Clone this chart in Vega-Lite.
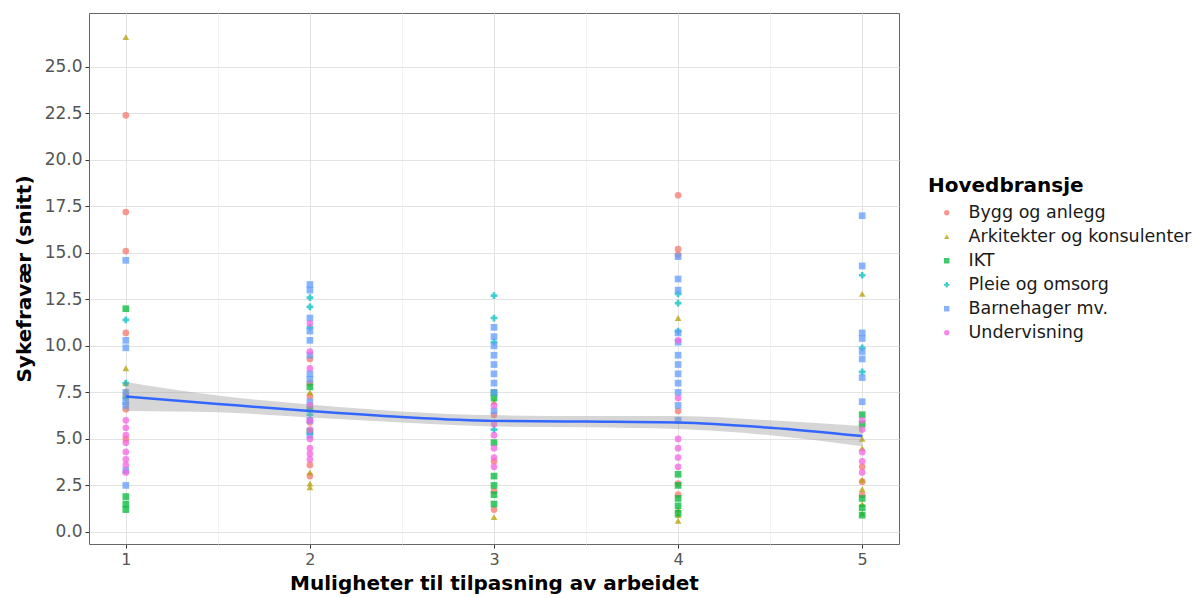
{
  "$schema": "https://vega.github.io/schema/vega-lite/v6.json",
  "width": 810,
  "height": 531,
  "autosize": {"type": "none"},
  "padding": {"left": 89, "top": 13, "right": 304, "bottom": 54},
  "background": "white",
  "config": {
    "font": "DejaVu Sans",
    "view": {"stroke": "#666666", "strokeWidth": 1},
    "axis": {
      "labelFont": "DejaVu Sans",
      "labelFontSize": 16,
      "labelColor": "#555555",
      "tickColor": "#333333",
      "tickSize": 4,
      "domain": false,
      "titleFont": "DejaVu Sans",
      "titleFontSize": 20,
      "titleFontWeight": "bold",
      "titleColor": "#000000"
    },
    "legend": {
      "titleFont": "DejaVu Sans",
      "labelFont": "DejaVu Sans"
    }
  },
  "datasets": {
    "pts": [
      {"x":1,"y":22.4,"b":"Bygg og anlegg"},{"x":1,"y":17.2,"b":"Bygg og anlegg"},{"x":1,"y":15.1,"b":"Bygg og anlegg"},{"x":1,"y":10.7,"b":"Bygg og anlegg"},{"x":1,"y":7.3,"b":"Bygg og anlegg"},{"x":1,"y":6.6,"b":"Bygg og anlegg"},{"x":1,"y":5.0,"b":"Bygg og anlegg"},
      {"x":1,"y":26.6,"b":"Arkitekter og konsulenter"},{"x":1,"y":8.8,"b":"Arkitekter og konsulenter"},{"x":1,"y":8.0,"b":"Arkitekter og konsulenter"},{"x":1,"y":7.6,"b":"Arkitekter og konsulenter"},
      {"x":1,"y":12.0,"b":"IKT"},{"x":1,"y":1.9,"b":"IKT"},{"x":1,"y":1.5,"b":"IKT"},{"x":1,"y":1.2,"b":"IKT"},
      {"x":1,"y":11.4,"b":"Pleie og omsorg"},{"x":1,"y":8.0,"b":"Pleie og omsorg"},{"x":1,"y":7.2,"b":"Pleie og omsorg"},
      {"x":1,"y":14.6,"b":"Barnehager mv."},{"x":1,"y":10.3,"b":"Barnehager mv."},{"x":1,"y":9.9,"b":"Barnehager mv."},{"x":1,"y":7.5,"b":"Barnehager mv."},{"x":1,"y":7.0,"b":"Barnehager mv."},{"x":1,"y":6.8,"b":"Barnehager mv."},{"x":1,"y":3.3,"b":"Barnehager mv."},{"x":1,"y":2.5,"b":"Barnehager mv."},
      {"x":1,"y":6.0,"b":"Undervisning"},{"x":1,"y":5.6,"b":"Undervisning"},{"x":1,"y":5.2,"b":"Undervisning"},{"x":1,"y":4.8,"b":"Undervisning"},{"x":1,"y":4.3,"b":"Undervisning"},{"x":1,"y":3.9,"b":"Undervisning"},{"x":1,"y":3.6,"b":"Undervisning"},{"x":1,"y":3.2,"b":"Undervisning"},

      {"x":2,"y":9.3,"b":"Bygg og anlegg"},{"x":2,"y":8.0,"b":"Bygg og anlegg"},{"x":2,"y":7.3,"b":"Bygg og anlegg"},{"x":2,"y":5.9,"b":"Bygg og anlegg"},{"x":2,"y":3.6,"b":"Bygg og anlegg"},{"x":2,"y":3.0,"b":"Bygg og anlegg"},
      {"x":2,"y":7.5,"b":"Arkitekter og konsulenter"},{"x":2,"y":3.2,"b":"Arkitekter og konsulenter"},{"x":2,"y":2.6,"b":"Arkitekter og konsulenter"},{"x":2,"y":2.4,"b":"Arkitekter og konsulenter"},
      {"x":2,"y":7.8,"b":"IKT"},{"x":2,"y":6.6,"b":"IKT"},{"x":2,"y":5.4,"b":"IKT"},
      {"x":2,"y":12.6,"b":"Pleie og omsorg"},{"x":2,"y":12.1,"b":"Pleie og omsorg"},{"x":2,"y":11.0,"b":"Pleie og omsorg"},{"x":2,"y":6.3,"b":"Pleie og omsorg"},
      {"x":2,"y":13.3,"b":"Barnehager mv."},{"x":2,"y":13.0,"b":"Barnehager mv."},{"x":2,"y":11.5,"b":"Barnehager mv."},{"x":2,"y":10.8,"b":"Barnehager mv."},{"x":2,"y":10.3,"b":"Barnehager mv."},{"x":2,"y":9.5,"b":"Barnehager mv."},{"x":2,"y":8.5,"b":"Barnehager mv."},{"x":2,"y":8.2,"b":"Barnehager mv."},{"x":2,"y":7.0,"b":"Barnehager mv."},{"x":2,"y":6.0,"b":"Barnehager mv."},{"x":2,"y":5.2,"b":"Barnehager mv."},
      {"x":2,"y":11.2,"b":"Undervisning"},{"x":2,"y":9.7,"b":"Undervisning"},{"x":2,"y":8.8,"b":"Undervisning"},{"x":2,"y":6.8,"b":"Undervisning"},{"x":2,"y":6.0,"b":"Undervisning"},{"x":2,"y":5.5,"b":"Undervisning"},{"x":2,"y":5.0,"b":"Undervisning"},{"x":2,"y":4.5,"b":"Undervisning"},{"x":2,"y":4.2,"b":"Undervisning"},{"x":2,"y":3.9,"b":"Undervisning"},

      {"x":3,"y":6.3,"b":"Bygg og anlegg"},{"x":3,"y":3.8,"b":"Bygg og anlegg"},{"x":3,"y":2.2,"b":"Bygg og anlegg"},{"x":3,"y":1.2,"b":"Bygg og anlegg"},
      {"x":3,"y":7.0,"b":"Arkitekter og konsulenter"},{"x":3,"y":0.8,"b":"Arkitekter og konsulenter"},
      {"x":3,"y":7.5,"b":"IKT"},{"x":3,"y":7.2,"b":"IKT"},{"x":3,"y":4.8,"b":"IKT"},{"x":3,"y":3.0,"b":"IKT"},{"x":3,"y":2.5,"b":"IKT"},{"x":3,"y":2.0,"b":"IKT"},{"x":3,"y":1.5,"b":"IKT"},
      {"x":3,"y":12.7,"b":"Pleie og omsorg"},{"x":3,"y":11.5,"b":"Pleie og omsorg"},{"x":3,"y":10.2,"b":"Pleie og omsorg"},{"x":3,"y":5.5,"b":"Pleie og omsorg"},
      {"x":3,"y":11.0,"b":"Barnehager mv."},{"x":3,"y":10.5,"b":"Barnehager mv."},{"x":3,"y":10.0,"b":"Barnehager mv."},{"x":3,"y":9.5,"b":"Barnehager mv."},{"x":3,"y":9.0,"b":"Barnehager mv."},{"x":3,"y":8.5,"b":"Barnehager mv."},{"x":3,"y":8.0,"b":"Barnehager mv."},{"x":3,"y":7.5,"b":"Barnehager mv."},{"x":3,"y":6.5,"b":"Barnehager mv."},
      {"x":3,"y":6.8,"b":"Undervisning"},{"x":3,"y":5.8,"b":"Undervisning"},{"x":3,"y":5.2,"b":"Undervisning"},{"x":3,"y":4.5,"b":"Undervisning"},{"x":3,"y":4.0,"b":"Undervisning"},{"x":3,"y":3.5,"b":"Undervisning"},

      {"x":4,"y":18.1,"b":"Bygg og anlegg"},{"x":4,"y":15.2,"b":"Bygg og anlegg"},{"x":4,"y":14.9,"b":"Bygg og anlegg"},{"x":4,"y":6.5,"b":"Bygg og anlegg"},{"x":4,"y":2.6,"b":"Bygg og anlegg"},{"x":4,"y":2.0,"b":"Bygg og anlegg"},
      {"x":4,"y":11.5,"b":"Arkitekter og konsulenter"},{"x":4,"y":1.2,"b":"Arkitekter og konsulenter"},{"x":4,"y":0.9,"b":"Arkitekter og konsulenter"},{"x":4,"y":0.6,"b":"Arkitekter og konsulenter"},
      {"x":4,"y":3.1,"b":"IKT"},{"x":4,"y":2.5,"b":"IKT"},{"x":4,"y":1.8,"b":"IKT"},{"x":4,"y":1.4,"b":"IKT"},{"x":4,"y":1.0,"b":"IKT"},
      {"x":4,"y":12.8,"b":"Pleie og omsorg"},{"x":4,"y":12.3,"b":"Pleie og omsorg"},{"x":4,"y":10.8,"b":"Pleie og omsorg"},
      {"x":4,"y":14.8,"b":"Barnehager mv."},{"x":4,"y":13.6,"b":"Barnehager mv."},{"x":4,"y":13.0,"b":"Barnehager mv."},{"x":4,"y":10.7,"b":"Barnehager mv."},{"x":4,"y":10.2,"b":"Barnehager mv."},{"x":4,"y":9.5,"b":"Barnehager mv."},{"x":4,"y":9.0,"b":"Barnehager mv."},{"x":4,"y":8.5,"b":"Barnehager mv."},{"x":4,"y":8.0,"b":"Barnehager mv."},{"x":4,"y":7.5,"b":"Barnehager mv."},{"x":4,"y":6.8,"b":"Barnehager mv."},{"x":4,"y":6.0,"b":"Barnehager mv."},
      {"x":4,"y":10.3,"b":"Undervisning"},{"x":4,"y":7.2,"b":"Undervisning"},{"x":4,"y":5.0,"b":"Undervisning"},{"x":4,"y":4.5,"b":"Undervisning"},{"x":4,"y":4.0,"b":"Undervisning"},{"x":4,"y":3.5,"b":"Undervisning"},

      {"x":5,"y":3.5,"b":"Bygg og anlegg"},{"x":5,"y":2.7,"b":"Bygg og anlegg"},{"x":5,"y":2.0,"b":"Bygg og anlegg"},
      {"x":5,"y":12.8,"b":"Arkitekter og konsulenter"},{"x":5,"y":5.0,"b":"Arkitekter og konsulenter"},{"x":5,"y":4.5,"b":"Arkitekter og konsulenter"},{"x":5,"y":2.8,"b":"Arkitekter og konsulenter"},{"x":5,"y":2.3,"b":"Arkitekter og konsulenter"},{"x":5,"y":1.5,"b":"Arkitekter og konsulenter"},{"x":5,"y":1.0,"b":"Arkitekter og konsulenter"},
      {"x":5,"y":6.3,"b":"IKT"},{"x":5,"y":5.8,"b":"IKT"},{"x":5,"y":1.8,"b":"IKT"},{"x":5,"y":1.3,"b":"IKT"},{"x":5,"y":0.9,"b":"IKT"},
      {"x":5,"y":13.8,"b":"Pleie og omsorg"},{"x":5,"y":9.9,"b":"Pleie og omsorg"},{"x":5,"y":8.6,"b":"Pleie og omsorg"},
      {"x":5,"y":17.0,"b":"Barnehager mv."},{"x":5,"y":14.3,"b":"Barnehager mv."},{"x":5,"y":10.7,"b":"Barnehager mv."},{"x":5,"y":10.4,"b":"Barnehager mv."},{"x":5,"y":9.7,"b":"Barnehager mv."},{"x":5,"y":9.3,"b":"Barnehager mv."},{"x":5,"y":8.3,"b":"Barnehager mv."},{"x":5,"y":7.0,"b":"Barnehager mv."},
      {"x":5,"y":6.0,"b":"Undervisning"},{"x":5,"y":5.5,"b":"Undervisning"},{"x":5,"y":4.3,"b":"Undervisning"},{"x":5,"y":3.8,"b":"Undervisning"},{"x":5,"y":3.2,"b":"Undervisning"}
    ],
    "smooth": [
      {"x":1,"fit":7.28,"lo":6.5,"hi":8.06},
      {"x":1.5,"fit":6.88,"lo":6.43,"hi":7.33},
      {"x":2,"fit":6.5,"lo":6.15,"hi":6.85},
      {"x":2.5,"fit":6.18,"lo":5.88,"hi":6.48},
      {"x":3,"fit":5.97,"lo":5.67,"hi":6.27},
      {"x":3.5,"fit":5.93,"lo":5.63,"hi":6.23},
      {"x":4,"fit":5.88,"lo":5.53,"hi":6.23},
      {"x":4.5,"fit":5.6,"lo":5.2,"hi":6.0},
      {"x":5,"fit":5.15,"lo":4.6,"hi":5.7}
    ]
  },
  "layer": [
    {
      "data": {"name": "pts"},
      "mark": {"type": "point", "filled": true, "opacity": 0.75, "size": 45},
      "encoding": {
        "x": {
          "field": "x", "type": "quantitative",
          "scale": {"domain": [0.8, 5.2], "nice": false, "zero": false},
          "axis": {
            "title": "Muligheter til tilpasning av arbeidet",
            "titlePadding": 6,
            "values": [1, 1.5, 2, 2.5, 3, 3.5, 4, 4.5, 5],
            "labelExpr": "datum.value % 1 === 0 ? format(datum.value, 'd') : ''",
            "grid": true,
            "gridColor": {"condition": {"test": "datum.value % 1 !== 0", "value": "#f3f3f3"}, "value": "#e3e3e3"},
            "tickOpacity": {"condition": {"test": "datum.value % 1 !== 0", "value": 0}, "value": 1},
            "labelPadding": 3
          }
        },
        "y": {
          "field": "y", "type": "quantitative",
          "scale": {"domain": [-0.65, 27.9], "nice": false, "zero": false},
          "axis": {
            "title": "Sykefravær (snitt)",
            "titlePadding": 10,
            "values": [0, 1.25, 2.5, 3.75, 5, 6.25, 7.5, 8.75, 10, 11.25, 12.5, 13.75, 15, 16.25, 17.5, 18.75, 20, 21.25, 22.5, 23.75, 25, 26.25],
            "labelExpr": "datum.value % 2.5 === 0 ? format(datum.value, '.1f') : ''",
            "labelFontSize": 17,
            "grid": true,
            "gridColor": {"condition": {"test": "datum.value % 2.5 !== 0", "value": "#f3f3f3"}, "value": "#e3e3e3"},
            "tickOpacity": {"condition": {"test": "datum.value % 2.5 !== 0", "value": 0}, "value": 1},
            "labelPadding": 3
          }
        },
        "color": {
          "field": "b", "type": "nominal",
          "scale": {
            "domain": ["Bygg og anlegg", "Arkitekter og konsulenter", "IKT", "Pleie og omsorg", "Barnehager mv.", "Undervisning"],
            "range": ["#F8766D", "#B79F00", "#00BA38", "#00BFC4", "#619CFF", "#F564E3"]
          },
          "legend": {
            "title": "Hovedbransje",
            "orient": "none",
            "legendX": 839,
            "legendY": 163,
            "titleFontSize": 20,
            "titleFontWeight": "bold",
            "titleColor": "#000000",
            "titlePadding": 8,
            "labelFontSize": 17.5,
            "labelColor": "#1a1a1a",
            "labelLimit": 400,
            "rowPadding": 5,
            "symbolOffset": 10,
            "labelOffset": 13,
            "symbolSize": 30,
            "symbolOpacity": 0.75
          }
        },
        "shape": {
          "field": "b", "type": "nominal",
          "scale": {
            "domain": ["Bygg og anlegg", "Arkitekter og konsulenter", "IKT", "Pleie og omsorg", "Barnehager mv.", "Undervisning"],
            "range": ["circle", "triangle-up", "square", "cross", "square", "circle"]
          },
          "legend": {
            "title": "Hovedbransje",
            "orient": "none",
            "legendX": 839,
            "legendY": 163,
            "titleFontSize": 20,
            "titleFontWeight": "bold",
            "titleColor": "#000000",
            "titlePadding": 8,
            "labelFontSize": 17.5,
            "labelColor": "#1a1a1a",
            "labelLimit": 400,
            "rowPadding": 5,
            "symbolOffset": 10,
            "labelOffset": 13,
            "symbolSize": 30,
            "symbolOpacity": 0.75
          }
        }
      }
    },
    {
      "data": {"name": "smooth"},
      "mark": {"type": "area", "color": "#999999", "opacity": 0.4, "interpolate": "monotone"},
      "encoding": {
        "x": {"field": "x", "type": "quantitative"},
        "y": {"field": "lo", "type": "quantitative"},
        "y2": {"field": "hi"}
      }
    },
    {
      "data": {"name": "smooth"},
      "mark": {"type": "line", "color": "#3366FF", "strokeWidth": 2.5, "interpolate": "monotone"},
      "encoding": {
        "x": {"field": "x", "type": "quantitative"},
        "y": {"field": "fit", "type": "quantitative"}
      }
    }
  ]
}
